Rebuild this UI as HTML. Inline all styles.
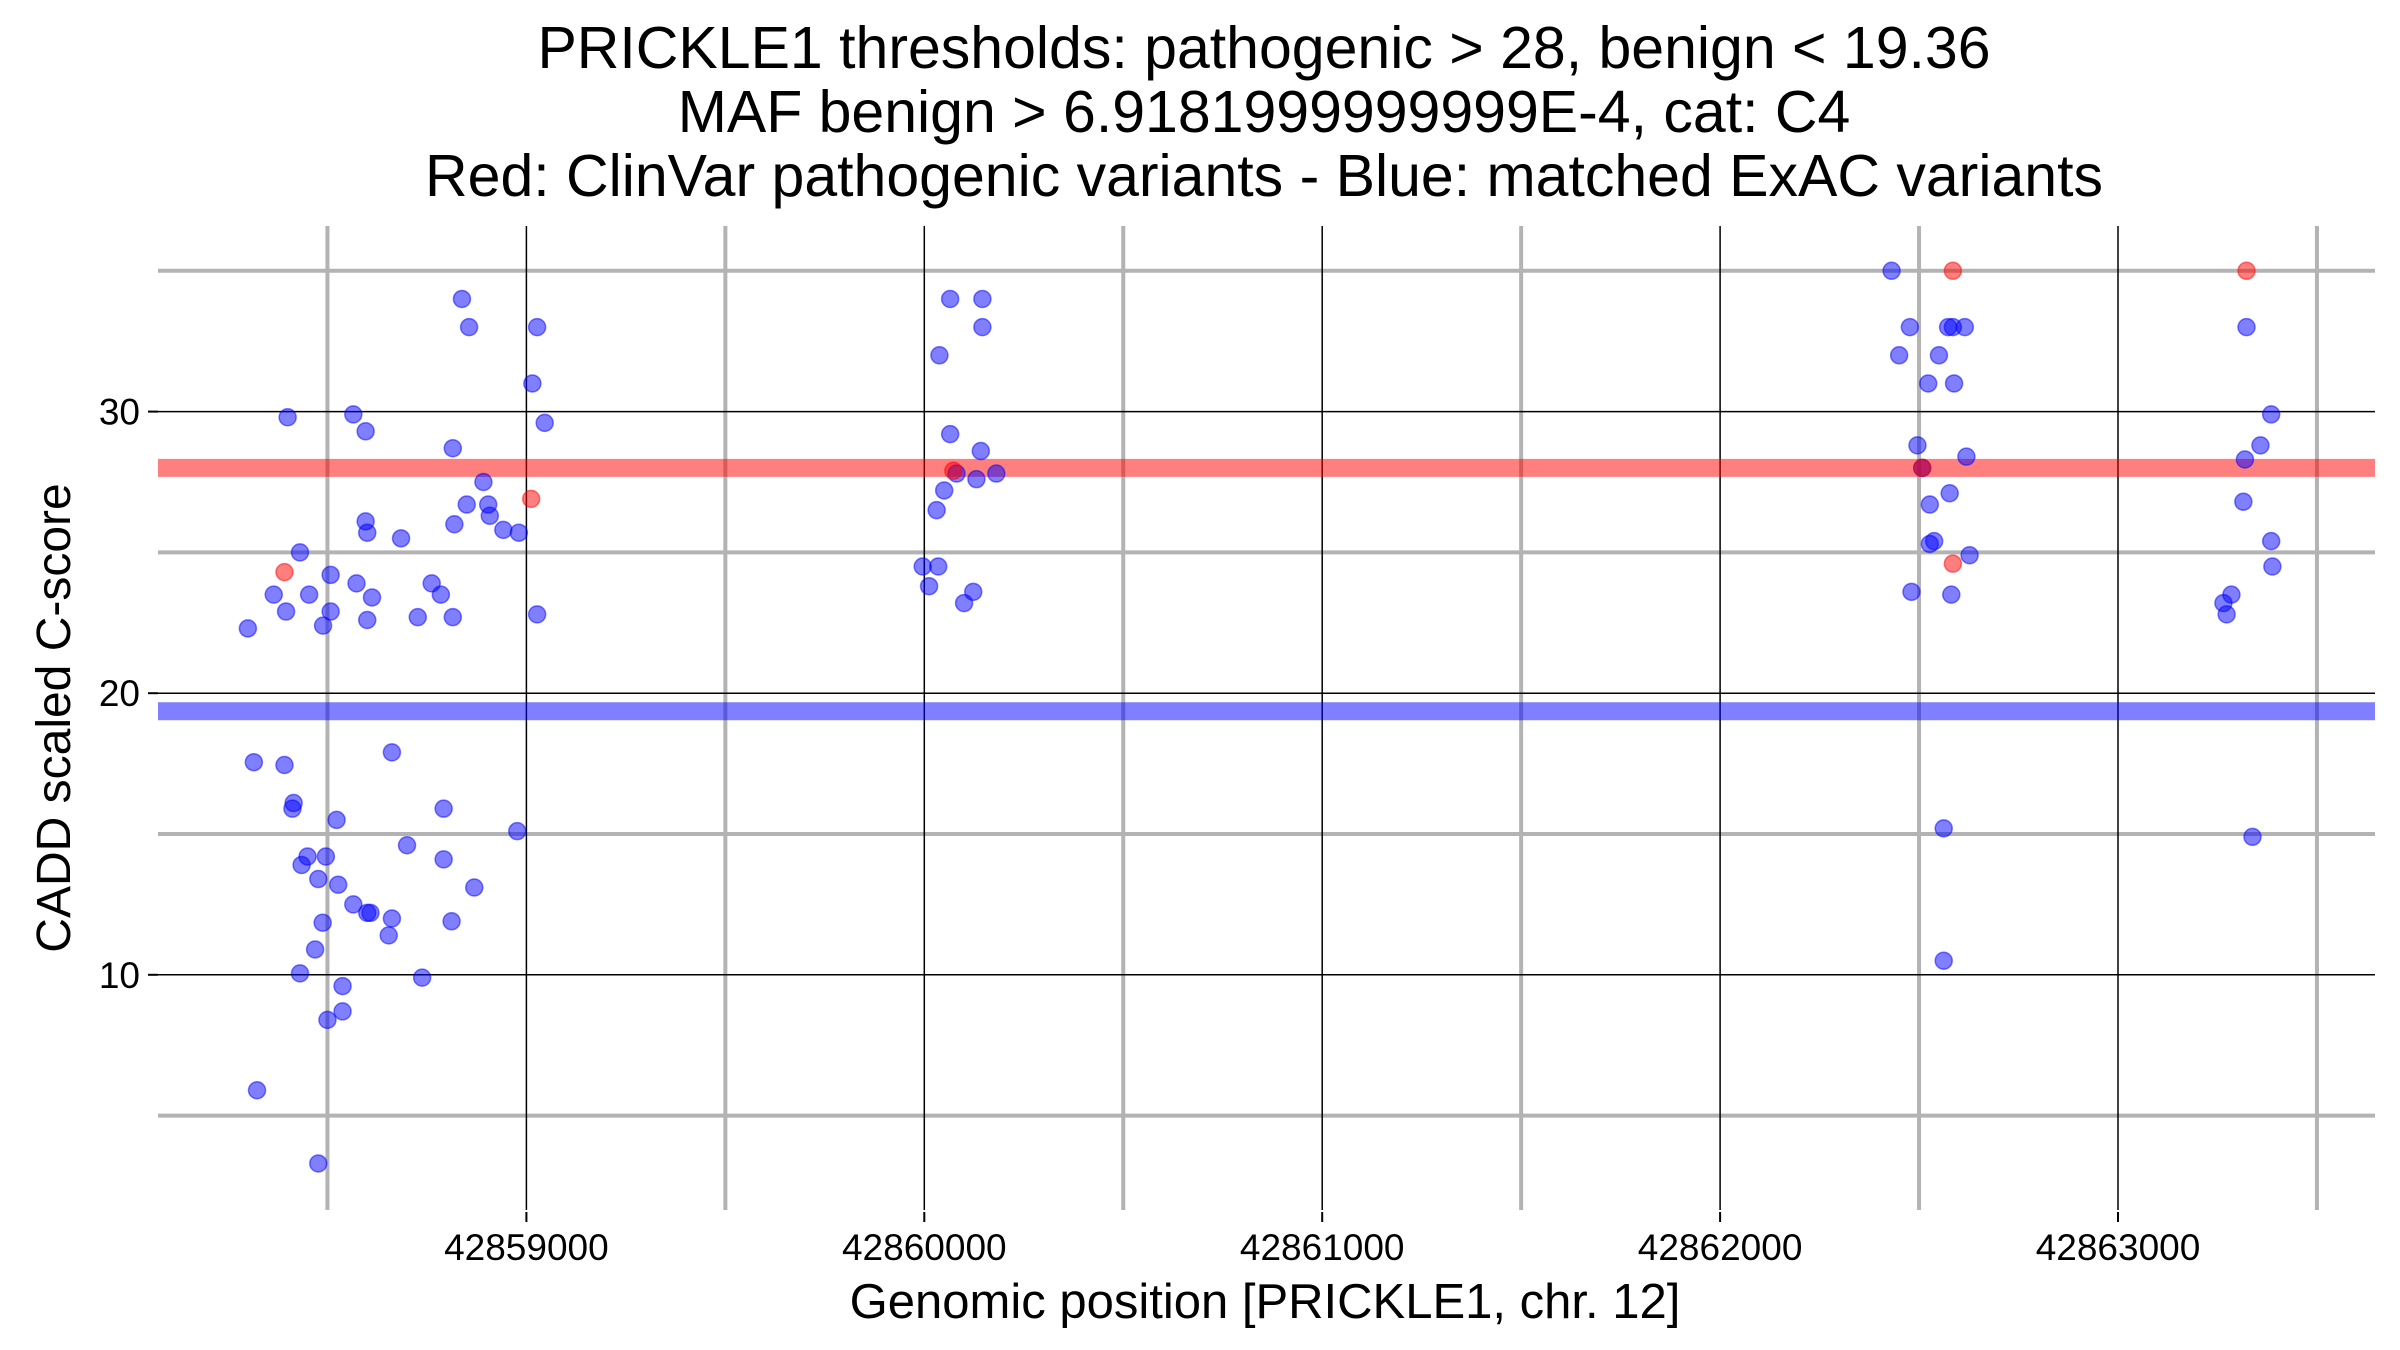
<!DOCTYPE html>
<html><head><meta charset="utf-8"><style>
html,body{margin:0;padding:0;background:#fff;}
svg{display:block;font-family:"Liberation Sans",Arial,sans-serif;}
</style></head><body>
<svg id="chart" width="2400" height="1350" viewBox="0 0 2400 1350" xmlns="http://www.w3.org/2000/svg">
<g font-size="59" text-anchor="middle" fill="#000">
<text x="1264" y="68">PRICKLE1 thresholds: pathogenic &gt; 28, benign &lt; 19.36</text>
<text x="1264" y="132">MAF benign &gt; 6.9181999999999E-4, cat: C4</text>
<text x="1264" y="196">Red: ClinVar pathogenic variants - Blue: matched ExAC variants</text>
</g>
<g id="grid"></g>
<g id="thresholds"></g>
<g id="points"></g>
<g id="axes"></g>
<text x="1265" y="1318" font-size="49" text-anchor="middle">Genomic position [PRICKLE1, chr. 12]</text>
<text transform="translate(70,718) rotate(-90)" font-size="48" text-anchor="middle">CADD scaled C-score</text>
</svg>
<script>
const xMajor = [42859000, 42860000, 42861000, 42862000, 42863000];
const xMinor = [42858500, 42859500, 42860500, 42861500, 42862500, 42863500];
const yMajor = [10, 20, 30];
const yMinor = [5, 15, 25, 35];
const xTickLabels = ["42859000", "42860000", "42861000", "42862000", "42863000"];
const yTickLabels = ["10", "20", "30"];
const thresholdPathogenic = 28;
const thresholdBenign = 19.36;
const benignX = [42858838,42858856,42859027,42859015,42859046,42858400,42858565,42858596,42858815,42858892,42858850,42858904,42858908,42858819,42858942,42858981,42858596,42858600,42858685,42858431,42858508,42858365,42858454,42858573,42858612,42858762,42858785,42858396,42858508,42858600,42858727,42858815,42859027,42858300,42858489,
42858315,42858392,42858662,42858415,42858412,42858523,42858792,42858977,42858435,42858450,42858496,42858700,42858792,42858477,42858527,42858869,42858565,42858600,42858608,42858662,42858812,42858488,42858654,42858469,42858431,42858738,42858538,42858538,42858500,42858323,42858477,
42860065,42860146,42860146,42860038,42860065,42860142,42860081,42860181,42860131,42860050,42860031,42859996,42860035,42860012,42860123,42860100,
42862431,42862477,42862573,42862585,42862615,42862450,42862550,42862523,42862588,42862496,42862619,42862508,42862577,42862527,42862538,42862527,42862627,42862481,42862581,42862562,42862562,
42863323,42863385,42863358,42863319,42863315,42863385,42863388,42863285,42863265,42863273,42863338];
const benignY = [34.0,33.0,33.0,31.0,29.6,29.8,29.9,29.3,28.7,27.5,26.7,26.7,26.3,26.0,25.8,25.7,26.1,25.7,25.5,25.0,24.2,23.5,23.5,23.9,23.4,23.9,23.5,22.9,22.9,22.6,22.7,22.7,22.8,22.3,22.4,
17.55,17.45,17.9,16.1,15.9,15.5,15.9,15.1,13.9,14.2,14.2,14.6,14.1,13.4,13.2,13.1,12.5,12.2,12.2,12.0,11.9,11.85,11.4,10.9,10.05,9.9,9.6,8.7,8.4,5.9,3.3,
34.0,34.0,33.0,32.0,29.2,28.6,27.8,27.8,27.6,27.2,26.5,24.5,24.5,23.8,23.6,23.2,
35.0,33.0,33.0,33.0,33.0,32.0,32.0,31.0,31.0,28.8,28.4,28.0,27.1,26.7,25.4,25.3,24.9,23.6,23.5,15.2,10.5,
33.0,29.9,28.8,28.3,26.8,25.4,24.5,23.5,23.2,22.8,14.9];
const pathoX = [42859012, 42858392, 42860073, 42862585, 42862508, 42862585, 42863323];
const pathoY = [26.9, 24.3, 27.9, 35.0, 28.0, 24.6, 35.0];

const L = 158, R = 2375, T = 226, B = 1210;
const NS = "http://www.w3.org/2000/svg";
function xs(v){ return 526.4 + (v - 42859000) * 0.3979; }
function ys(v){ return 411.6 + (30 - v) * 28.16; }
function mk(tag, attrs, parent){ const e = document.createElementNS(NS, tag); for (const k in attrs) e.setAttribute(k, attrs[k]); parent.appendChild(e); return e; }
const grid = document.getElementById('grid');
yMinor.forEach(v => { const e = mk('line', {x1:L, x2:R, y1:ys(v), y2:ys(v), stroke:'#b3b3b3', 'stroke-width':4}, grid);

 });
xMinor.forEach(v => { const e = mk('line', {x1:xs(v), x2:xs(v), y1:T, y2:B, stroke:'#b3b3b3', 'stroke-width':4}, grid);

 });
yMajor.forEach(v => { const e = mk('line', {x1:L, x2:R, y1:ys(v), y2:ys(v), stroke:'#000', 'stroke-width':1.5}, grid);

 });
xMajor.forEach(v => { const e = mk('line', {x1:xs(v), x2:xs(v), y1:T, y2:B, stroke:'#000', 'stroke-width':1.5}, grid);

 });
const th = document.getElementById('thresholds');
const tp = mk('line', {x1:L, x2:R, y1:ys(thresholdPathogenic), y2:ys(thresholdPathogenic), stroke:'#ff0000', 'stroke-opacity':0.5, 'stroke-width':18}, th);


const tb = mk('line', {x1:L, x2:R, y1:ys(thresholdBenign), y2:ys(thresholdBenign), stroke:'#0000ff', 'stroke-opacity':0.5, 'stroke-width':18}, th);


const pts = document.getElementById('points');
benignX.forEach((v, i) => { const c = mk('circle', {cx:xs(v), cy:ys(benignY[i]), r:8.5, fill:'#0000ff', 'fill-opacity':0.5, stroke:'#0000ff', 'stroke-opacity':0.5, 'stroke-width':1.5}, pts);

 });
pathoX.forEach((v, i) => { const c = mk('circle', {cx:xs(v), cy:ys(pathoY[i]), r:8.5, fill:'#ff0000', 'fill-opacity':0.5, stroke:'#ff0000', 'stroke-opacity':0.5, 'stroke-width':1.5}, pts);

 });
const ax = document.getElementById('axes');
xMajor.forEach((v, i) => {
  const t = mk('line', {x1:xs(v), x2:xs(v), y1:B+2, y2:B+12, stroke:'#000', 'stroke-width':2}, ax);
  
  
  const l = mk('text', {x:xs(v), y:1260, 'font-size':37, 'text-anchor':'middle'}, ax);
  l.textContent = xTickLabels[i];
  
  
});
yMajor.forEach((v, i) => {
  const t = mk('line', {x1:L-10, x2:L, y1:ys(v), y2:ys(v), stroke:'#000', 'stroke-width':2}, ax);
  
  
  const l = mk('text', {x:L-18, y:ys(v)+13, 'font-size':37, 'text-anchor':'end'}, ax);
  l.textContent = yTickLabels[i];
  
  
});
</script>
</body></html>
